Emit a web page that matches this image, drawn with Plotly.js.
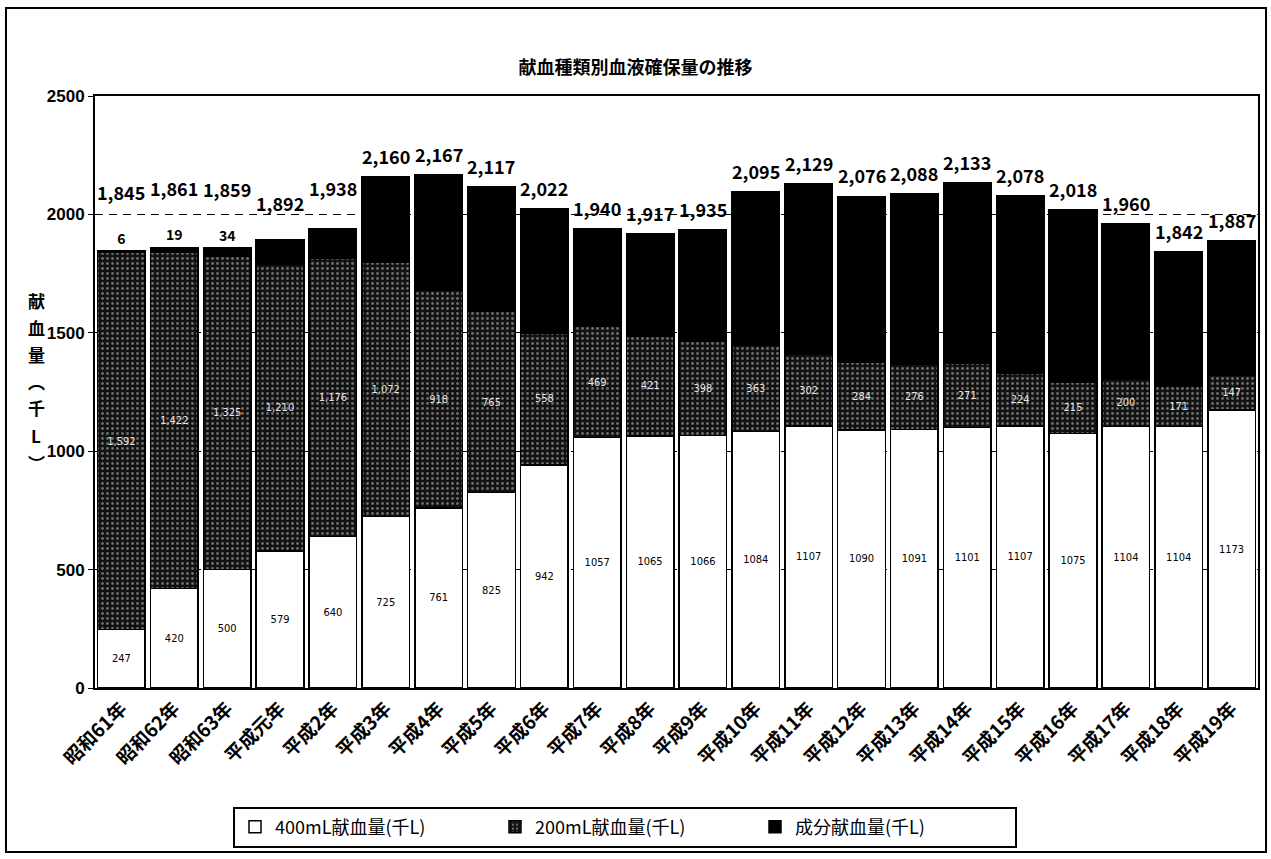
<!DOCTYPE html>
<html>
<head>
<meta charset="utf-8">
<script src="https://cdn.plot.ly/plotly-3.0.1.min.js"></script>
<style>
  html, body { margin:0; padding:0; background:#fff; }
  #wrap { position:relative; width:1271px; height:859px; }
  #chart { width:1271px; height:859px; }
  #frame { position:absolute; left:5px; top:7px; width:1258px; height:842px; border:2px solid #000; pointer-events:none; }
</style>
</head>
<body>
<div id="wrap">
  <div id="chart"></div>
  <div id="frame"></div>
</div>
<script>
// ---- data ----
const categories = ['昭和61年','昭和62年','昭和63年','平成元年','平成2年','平成3年','平成4年','平成5年','平成6年','平成7年','平成8年','平成9年','平成10年','平成11年','平成12年','平成13年','平成14年','平成15年','平成16年','平成17年','平成18年','平成19年'];
const vol400 = [247,420,500,579,640,725,761,825,942,1057,1065,1066,1084,1107,1090,1091,1101,1107,1075,1104,1104,1173];
const vol200 = [1592,1422,1325,1210,1176,1072,918,765,558,469,421,398,363,302,284,276,271,224,215,200,171,147];
const totals = [1845,1861,1859,1892,1938,2160,2167,2117,2022,1940,1917,1935,2095,2129,2076,2088,2133,2078,2018,1960,1842,1887];
const componentVol = totals.map((t,i) => t - vol400[i] - vol200[i]);
const seriesNames = ['400mL献血量(千L)','200mL献血量(千L)','成分献血量(千L)'];
const yTickVals = [0,500,1000,1500,2000,2500];
const titleText = '献血種類別血液確保量の推移';
const yTitleChars = ['献','血','量','︵','千','L','︶'];

// ---- styles ----
const JP = '"Noto Sans CJK JP", "Noto Sans", sans-serif';
const fmt = v => v.toLocaleString('en-US');
const shownComponent = componentVol.map(v => v < 50 ? String(v) : '');
const totalShift = componentVol.map((v,i) => v < 50 ? 44 : (i === 3 ? 22 : (i === 4 ? 26 : 6)));

const traces = [
  {
    type:'bar', name:seriesNames[0], x:categories, y:vol400,
    marker:{color:'#ffffff', line:{color:'#000', width:1.5}},
    text:vol400.map(String), textposition:'inside', insidetextanchor:'middle',
    textangle:0, textfont:{family:'"Liberation Sans Narrow", "DejaVu Sans Condensed", sans-serif', size:11, color:'#000'},
    hoverinfo:'x+y'
  },
  {
    type:'bar', name:seriesNames[1], x:categories, y:vol200,
    marker:{color:'#111111', line:{color:'#000', width:1.5},
      pattern:{shape:'.', fgcolor:'#6e6e6e', bgcolor:'#111111', size:5, solidity:0.25}},
    text:vol200.map(fmt), textposition:'inside', insidetextanchor:'middle',
    textangle:0, textfont:{family:'"Liberation Sans Narrow", "DejaVu Sans Condensed", sans-serif', size:11, color:'#e6e6e6'},
    hoverinfo:'x+y'
  },
  {
    type:'bar', name:seriesNames[2], x:categories, y:componentVol,
    marker:{color:'#000000', line:{color:'#000', width:1.5}},
    text:shownComponent, textposition:'outside', cliponaxis:false,
    textangle:0, textfont:{family:JP, size:14, color:'#000', weight:'bold'},
    hoverinfo:'x+y'
  }
];

const annotations = totals.map((t,i) => ({
  x:categories[i], y:t, xref:'x', yref:'y', text:fmt(t), showarrow:false,
  yanchor:'bottom', yshift:totalShift[i],
  font:{family:JP, size:18, color:'#000', weight:'bold'}
}));
const plotTop = 96, plotBottom = 688, plotH = plotBottom - plotTop;
yTitleChars.forEach((c,k) => {
  const py = 300 + k*27;
  annotations.push({
    xref:'paper', yref:'paper', x:(36-95)/1163, y:(plotBottom - py)/plotH,
    text:c, showarrow:false, xanchor:'center', yanchor:'middle',
    font:{family:JP, size:17, color:'#000', weight:'bold'}
  });
});

const layout = {
  width:1271, height:859,
  margin:{l:95, r:13, t:96, b:171},
  paper_bgcolor:'#fff', plot_bgcolor:'#fff',
  barmode:'stack', bargap:0.1,
  title:{text:titleText, x:0.5, xanchor:'center', y:1-68/859, yanchor:'middle',
    font:{family:JP, size:18, color:'#000', weight:'bold'}},
  showlegend:true,
  legend:{orientation:'h', x:(625-95)/1163, xanchor:'center', y:(plotBottom-827)/plotH, yanchor:'middle',
    bordercolor:'#000', borderwidth:2, bgcolor:'#fff', entrywidth:215, traceorder:'normal',
    itemwidth:30,
    font:{family:JP, size:18, color:'#000'}},
  xaxis:{
    type:'category', tickangle:-45, showline:true, linecolor:'#000', linewidth:2, mirror:true,
    ticks:'', showgrid:false,
    tickfont:{family:JP, size:19, color:'#000', weight:'bold'}
  },
  yaxis:{
    range:[0,2500], tickvals:yTickVals, ticktext:yTickVals.map(String),
    showline:true, linecolor:'#000', linewidth:2, mirror:true,
    ticks:'outside', ticklen:5, tickcolor:'#000',
    showgrid:true, gridcolor:'#000', gridwidth:1, griddash:'8px,6px',
    zeroline:false,
    tickfont:{family:'"Liberation Sans", Arial, sans-serif', size:17, color:'#000', weight:'bold'}
  },
  annotations:annotations
};

Plotly.newPlot('chart', traces, layout, {displayModeBar:false, staticPlot:true});
</script>
</body>
</html>
